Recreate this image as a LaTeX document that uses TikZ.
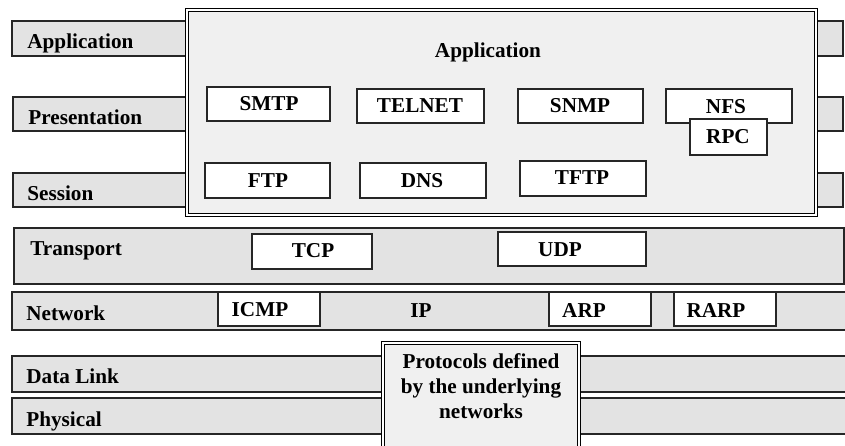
\documentclass[tikz,border=0pt]{standalone}
\usepackage{fontspec}
\setmainfont{Liberation Serif}
\usepackage{xcolor}
\definecolor{layergray}{RGB}{227, 227, 227}
\definecolor{stackgray}{RGB}{240, 240, 240}

\begin{document}
\begin{tikzpicture}[x=0.5pt, y=-0.5pt,
    layer/.style={draw=black!85, line width=1pt, fill=layergray},
    stack/.style={draw=black, line width=0.6pt, double=white, double distance=0.9pt, fill=stackgray},
    proto/.style={draw=black!85, line width=0.75pt, fill=white},
    lbl/.style={font=\bfseries\fontsize{10.6}{12.5}\selectfont, inner sep=0pt}]
    \useasboundingbox (0,0) rectangle (845,445);
    % OSI layers
    \draw[layer] (12,21) rectangle (843,56);
    \draw[layer] (13,97) rectangle (843,131);
    \draw[layer] (13,173) rectangle (843,207);
    \draw[stack] (187,10) rectangle (816,215);
    \draw[layer] (14,228) rectangle (844,284);
    \draw[layer] (12,292) rectangle (852,330);
    \draw[layer] (12,356) rectangle (852,392);
    \draw[layer] (12,398) rectangle (852,434);
    \draw[stack] (383,343) rectangle (579,458);
    \node[lbl, anchor=base west] (lapp) at (27,48) {Application};
    \node[lbl, anchor=base west] (lpre) at (28,124) {Presentation};
    \node[lbl, anchor=base west] (lses) at (27,200) {Session};
    \node[lbl, anchor=base west] (ltra) at (30,255) {Transport};
    \node[lbl, anchor=base west] (lnet) at (26,320) {Network};
    \node[lbl, anchor=base west] (ldat) at (26,383) {Data Link};
    \node[lbl, anchor=base west] (lphy) at (26,426) {Physical};
    % application protocols
    \node[lbl, anchor=base] (apptitle) at (488,57) {Application};
    \draw[proto] (207,87) rectangle (330,121);
    \node[lbl] (smtp) at (269,104) {SMTP};
    \draw[proto] (357,89) rectangle (484,123);
    \node[lbl] (telnet) at (420,106) {TELNET};
    \draw[proto] (518,89) rectangle (643,123);
    \node[lbl] (snmp) at (580,106) {SNMP};
    \draw[proto] (666,89) rectangle (792,123);
    \node[lbl] (nfs) at (726,107) {NFS};
    \draw[proto] (690,119) rectangle (767,155);
    \node[lbl] (rpc) at (728,137) {RPC};
    \draw[proto] (205,163) rectangle (330,198);
    \node[lbl] (ftp) at (268,181) {FTP};
    \draw[proto] (360,163) rectangle (486,198);
    \node[lbl] (dns) at (422,181) {DNS};
    \draw[proto] (520,161) rectangle (646,196);
    \node[lbl] (tftp) at (582,178) {TFTP};
    % transport and network
    \draw[proto] (252,234) rectangle (372,269);
    \node[lbl] (tcp) at (313,251) {TCP};
    \draw[proto] (498,232) rectangle (646,266);
    \node[lbl] (udp) at (560,250) {UDP};
    \draw[proto] (218,292) rectangle (320,326);
    \node[lbl] (icmp) at (260,310) {ICMP};
    \node[lbl] (ip) at (421,311) {IP};
    \draw[proto] (549,292) rectangle (651,326);
    \node[lbl] (arp) at (584,310) {ARP};
    \draw[proto] (674,292) rectangle (776,326);
    \node[lbl] (rarp) at (716,310) {RARP};
    % lower layers
    \node[lbl, align=center] (under) at (481,386) {Protocols defined\\by the underlying\\networks};
\end{tikzpicture}
\end{document}
